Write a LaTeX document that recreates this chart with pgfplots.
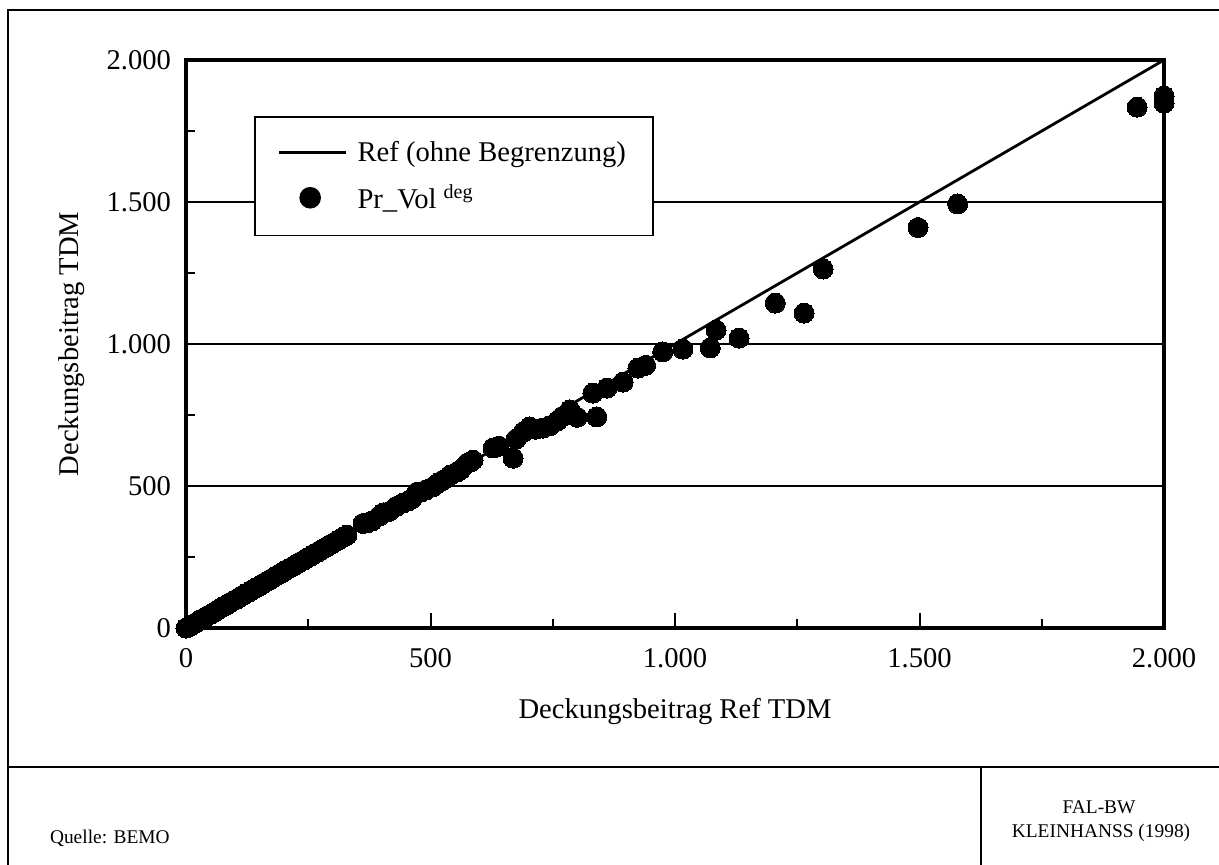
\documentclass[border=0pt]{standalone}
\usepackage{pgfplots}
\pgfplotsset{compat=1.18}
\usepackage{fontspec}
\setmainfont{Liberation Serif}
\begin{document}
\begin{tikzpicture}
\path[use as bounding box] (0,0) rectangle (609.5bp,-432.5bp);
\begin{axis}[
  at={(93bp,-314bp)}, anchor=south west,
  scale only axis, width=489bp, height=284bp,
  xmin=0, xmax=2000, ymin=0, ymax=2000,
  clip=false,
  xtick={0,500,1000,1500,2000}, ytick={0,500,1000,1500,2000},
  xticklabels={0,500,1.000,1.500,2.000},
  yticklabels={0,500,1.000,1.500,2.000},
  minor xtick={250,750,1250,1750}, minor ytick={250,750,1250,1750},
  tick align=inside, tickpos=left,
  major tick length=7.5bp, minor tick length=4.5bp,
  every tick/.style={black, line width=1bp},
  ymajorgrids, grid style={black, line width=0.9bp},
  axis line style={line width=1.6bp},
  tick label style={font=\fontsize{14.3bp}{17bp}\selectfont},
  xticklabel style={yshift=-6.5bp},
  yticklabel style={xshift=-4bp},
  label style={font=\fontsize{14.3bp}{17bp}\selectfont},
  xlabel={Deckungsbeitrag Ref TDM},
  ylabel={Deckungsbeitrag TDM},
  xlabel style={at={(axis description cs:0.5,-0.147)}, anchor=center},
  ylabel style={at={(axis description cs:-0.1166,0.5)}, anchor=center},
  legend cell align=left,
  legend style={at={(0.0695,0.901)}, anchor=north west, draw=black, line width=0.8bp,
    fill=white, inner xsep=11.5bp, inner ysep=10bp, row sep=6bp, column sep=3bp,
    font=\fontsize{14.3bp}{17bp}\selectfont},
]
\addplot[black, line width=1.4bp,
  legend image code/.code={\draw[black, line width=1.4bp] (0bp,0bp) -- (33.5bp,0bp);}]
  coordinates {(0,0) (2000,2000)};
\addlegendentry{Ref (ohne Begrenzung)}
\addplot[only marks, mark=*, mark size=5bp, mark options={fill=black, draw=black, line width=0pt},
  legend image code/.code={\path[draw=none, fill=none] (0bp,0bp) -- (33.5bp,0bp); \fill[black] (15.5bp,0bp) circle (5bp);}]
  coordinates {
  (0,0) (3,2) (8,6) (12,12) (18,16) (25,24) (30,28) (38,37) (45,44) (52,50)
  (60,58) (68,67) (75,74) (82,80) (90,89) (98,97) (105,103) (112,111) (120,119)
  (128,126) (135,134) (142,141) (150,148) (158,157) (165,164) (172,170) (180,179)
  (188,187) (195,193) (202,201) (210,209) (218,216) (225,224) (232,231) (240,238)
  (248,247) (255,253) (262,261) (270,268) (278,277) (285,283) (292,291) (300,298)
  (308,306) (315,313) (322,320) (329,327)
  (362,368) (370,370) (380,376) (395,394) (403,405) (415,410) (430,428) (444,440)
  (455,448) (462,455) (472,478) (480,478) (490,485) (505,497) (515,510) (525,520)
  (540,538) (554,549) (562,558) (575,580) (582,585) (587,591) (628,634) (640,640)
  (669,598) (675,665) (690,690) (703,708) (715,700) (730,704) (744,712) (760,730)
  (770,745) (779,752) (785,768) (800,742) (832,827) (840,743) (861,845) (894,866)
  (924,915) (940,925) (975,972) (1016,982) (1072,986) (1084,1049) (1131,1021)
  (1205,1144) (1264,1109) (1303,1264) (1497,1410) (1578,1493) (1945,1834)
  (2000,1873) (2000,1848)
  };
\addlegendentry{Pr\_Vol \textsuperscript{deg}}
\end{axis}
% frame
\draw[line width=1bp] (4bp,-432.5bp) -- (4bp,-5bp) -- (609.5bp,-5bp);
\draw[line width=1bp] (4bp,-383.5bp) -- (609.5bp,-383.5bp);
\draw[line width=0.8bp] (490.5bp,-383.5bp) -- (490.5bp,-432.5bp);
\node[anchor=west, font=\fontsize{9.7bp}{11bp}\selectfont] at (21.5bp,-419bp) {Quelle: BEMO};
\node[font=\fontsize{9.7bp}{11bp}\selectfont] at (549.5bp,-403.5bp) {FAL-BW};
\node[font=\fontsize{9.7bp}{11bp}\selectfont] at (550.5bp,-416.5bp) {KLEINHANSS (1998)};
\end{tikzpicture}
\end{document}
